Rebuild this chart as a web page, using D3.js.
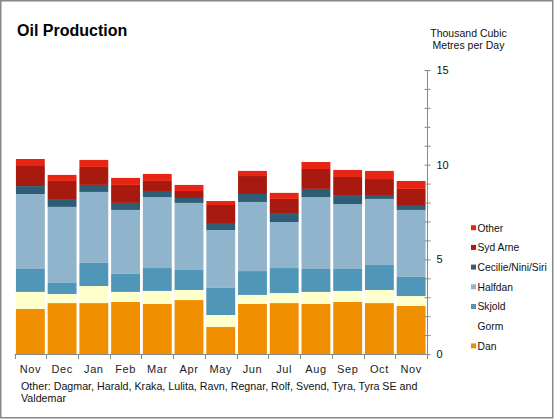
<!DOCTYPE html>
<html><head><meta charset="utf-8">
<script src="https://cdn.jsdelivr.net/npm/d3@7/dist/d3.min.js"></script>
<style>body{margin:0;background:#fff}svg{display:block;font-family:"Liberation Sans",Arial,sans-serif}</style>
</head><body><svg id="c" width="554" height="419"></svg>
<script>
const months = ["Nov","Dec","Jan","Feb","Mar","Apr","May","Jun","Jul","Aug","Sep","Oct","Nov"];
const seriesNames = ["Dan","Gorm","Skjold","Halfdan","Cecilie/Nini/Siri","Syd Arne","Other"];
const seriesColors = ["#F09000","#FFFFCC","#5096B9","#90B4CC","#2D5E75","#A81A10","#E82515"];
const dan     = [2.38,2.69,2.69,2.75,2.64,2.85,1.43,2.64,2.69,2.64,2.75,2.69,2.54];
const gorm    = [0.90,0.48,0.90,0.53,0.69,0.53,0.63,0.48,0.53,0.64,0.58,0.69,0.52];
const skjold  = [1.21,0.58,1.22,0.95,1.21,1.06,1.43,1.26,1.32,1.21,1.16,1.32,1.01];
const halfdan = [3.96,4.02,3.75,3.38,3.75,3.54,3.06,3.65,2.43,3.80,3.43,3.49,3.54];
const cecilie = [0.42,0.37,0.37,0.37,0.32,0.26,0.32,0.42,0.43,0.43,0.43,0.16,0.21];
const sydArne = [1.06,1.00,0.95,0.95,0.53,0.37,1.00,0.95,0.79,1.05,1.00,0.89,0.90];
const other   = [0.37,0.32,0.37,0.37,0.37,0.32,0.21,0.27,0.32,0.37,0.37,0.43,0.42];
const yTicks = [0,5,10,15];
const footnote = ["Other: Dagmar, Harald, Kraka, Lulita, Ravn, Regnar, Rolf, Svend, Tyra, Tyra SE and","Valdemar"];

const seriesVals = [dan,gorm,skjold,halfdan,cecilie,sydArne,other];
const rows = months.map((m,i)=>{const r={idx:i}; seriesNames.forEach((s,j)=>r[s]=seriesVals[j][i]); return r;});

const svg = d3.select("#c");
svg.append("rect").attr("x",0.75).attr("y",0.75).attr("width",552).attr("height",417)
  .attr("fill","#fff").attr("stroke","#888").attr("stroke-width",1.5);

const x = d3.scaleBand().domain(d3.range(months.length)).range([14.5,427]).paddingInner(0.09).paddingOuter(0.045);
const y = d3.scaleLinear().domain([0,15]).range([354,70]);

const stack = d3.stack().keys(seriesNames)(rows);
const color = d3.scaleOrdinal().domain(seriesNames).range(seriesColors);

svg.append("g").selectAll("g").data(stack).join("g").attr("fill",d=>color(d.key))
  .selectAll("rect").data(d=>d).join("rect")
  .attr("x",d=>x(d.data.idx)).attr("width",x.bandwidth())
  .attr("y",d=>y(d[1])).attr("height",d=>y(d[0])-y(d[1]));

// x axis
const xa = svg.append("g").attr("stroke","#888").attr("stroke-width",1);
xa.append("line").attr("x1",14.5).attr("x2",427).attr("y1",354.5).attr("y2",354.5);
const step = x.step();
d3.range(months.length+1).forEach(i=>{
  const xx = Math.round(14.5 + i*step)+0.5;
  xa.append("line").attr("x1",xx).attr("x2",xx).attr("y1",354).attr("y2",359);
});
svg.append("g").selectAll("text").data(months).join("text")
  .attr("x",(d,i)=>x(i)+x.bandwidth()/2).attr("y",373)
  .attr("text-anchor","middle").attr("font-size",11).attr("letter-spacing",0.6).attr("fill","#222").text(d=>d);

// y axis (right)
const yAxis = d3.axisRight(y).tickValues(d3.range(0,16,1)).tickSize(4).tickFormat(d=>yTicks.includes(d)?d:"");
const ya = svg.append("g").attr("transform","translate(427.5,0)").call(yAxis);
ya.select(".domain").attr("stroke","#888").attr("d","M0,70V354.5");
ya.selectAll(".tick line").attr("stroke","#888").attr("x1",-3).attr("x2",3);
ya.selectAll(".tick text").attr("font-size",11).attr("font-family","Liberation Sans, Arial, sans-serif").attr("fill","#111").attr("x",9);

// title
svg.append("text").attr("x",17).attr("y",36).attr("font-size",16).attr("font-weight","bold").attr("fill","#000").text("Oil Production");
svg.append("text").attr("x",468.5).attr("y",37).attr("text-anchor","middle").attr("font-size",10.5).attr("fill","#111").text("Thousand Cubic");
svg.append("text").attr("x",468.5).attr("y",49).attr("text-anchor","middle").attr("font-size",10.5).attr("fill","#111").text("Metres per Day");

// legend
const legOrder = seriesNames.slice().reverse();
const lg = svg.append("g").selectAll("g").data(legOrder).join("g")
  .attr("transform",(d,i)=>`translate(471,${227.7+i*19.7})`);
lg.append("rect").attr("x",0).attr("y",-2.5).attr("width",5).attr("height",5).attr("fill",d=>color(d));
lg.append("text").attr("x",6.5).attr("y",3.8).attr("font-size",10.3).attr("fill","#111").text(d=>d);

// footnote
svg.append("g").selectAll("text").data(footnote).join("text")
  .attr("x",21).attr("y",(d,i)=>390+i*12).attr("font-size",10.7).attr("fill","#111").text(d=>d);
</script></body></html>
